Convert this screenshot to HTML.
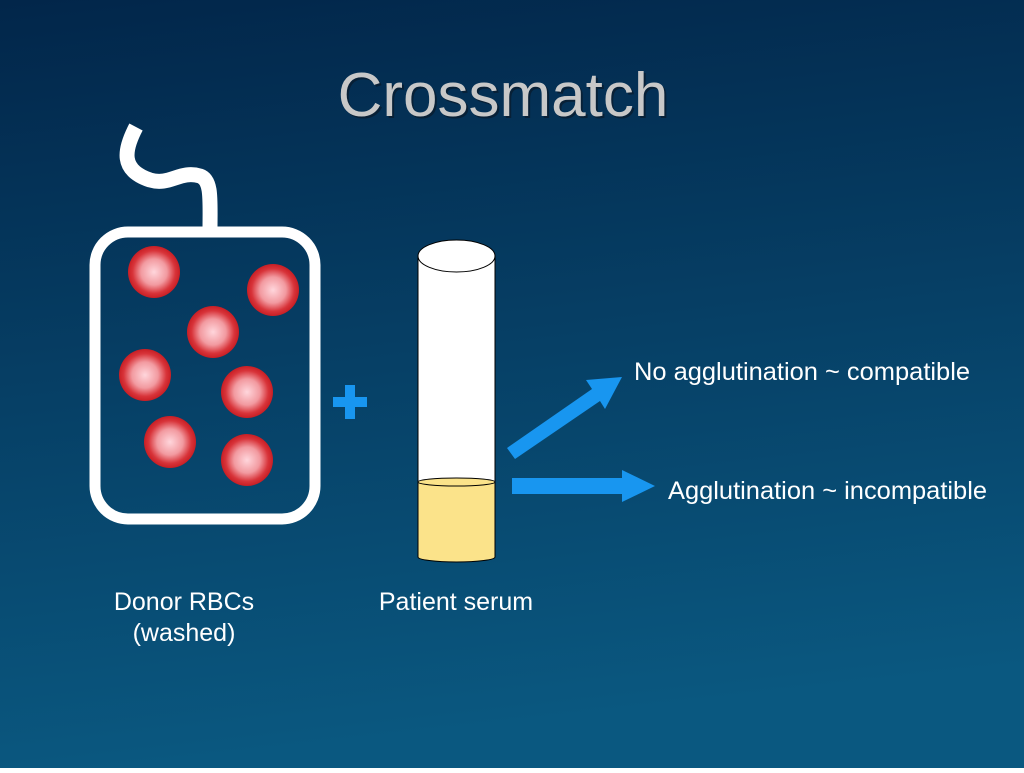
<!DOCTYPE html>
<html><head><style>
html,body{margin:0;padding:0;}
body{width:1024px;height:768px;overflow:hidden;}
</style></head><body>
<svg width="1024" height="768" xmlns="http://www.w3.org/2000/svg">
<defs>
<linearGradient id="bg" x1="0" y1="0" x2="0.15" y2="1">
<stop offset="0" stop-color="#02264a"/>
<stop offset="1" stop-color="#0a5880"/>
</linearGradient>
<radialGradient id="cell" cx="0.5" cy="0.5" r="0.5">
<stop offset="0" stop-color="#ffd6dc"/>
<stop offset="0.5" stop-color="#f29aa0"/>
<stop offset="0.82" stop-color="#d8343a"/>
<stop offset="1" stop-color="#c81e24"/>
</radialGradient>
</defs>
<rect width="1024" height="768" fill="url(#bg)"/>
<text x="505" y="118" font-family="Liberation Sans, sans-serif" font-size="62" fill="#0a1a2a" text-anchor="middle" opacity="0.7">Crossmatch</text>
<text x="503" y="116" font-family="Liberation Sans, sans-serif" font-size="62" fill="#c8c8c8" text-anchor="middle">Crossmatch</text>
<path d="M136,127 C124,150 120,170 150,180 C170,186 180,170 200,176 C212,180 210,200 210,230" fill="none" stroke="#fff" stroke-width="15"/>
<rect x="95" y="232" width="220" height="287" rx="33" fill="none" stroke="#fff" stroke-width="11"/>
<g fill="url(#cell)">
<circle cx="154" cy="272" r="26"/>
<circle cx="273" cy="290" r="26"/>
<circle cx="213" cy="332" r="26"/>
<circle cx="145" cy="375" r="26"/>
<circle cx="247" cy="392" r="26"/>
<circle cx="170" cy="442" r="26"/>
<circle cx="247" cy="460" r="26"/>
</g>
<path d="M345,385h10v12h12v10h-12v12h-10v-12h-12v-10h12z" fill="#1896f0"/>
<path d="M418,482 L418,557 A38.5,5 0 0 0 495,557 L495,482 Z" fill="#fbe38a" stroke="#000" stroke-width="1"/>
<path d="M418,256 L418,482 L495,482 L495,256 Z" fill="#fff"/>
<ellipse cx="456.5" cy="482" rx="38.5" ry="4" fill="#fbe38a" stroke="#000" stroke-width="1"/>
<path d="M418,256 L418,482 M495,256 L495,482" stroke="#000" stroke-width="1" fill="none"/>
<ellipse cx="456.5" cy="256" rx="38.5" ry="16" fill="#fff" stroke="#000" stroke-width="1"/>
<path d="M507,448 L592,389 L586,380 L622,377 L605,409 L600,401 L515,459 Z" fill="#1896f0"/>
<path d="M512,478 L622,478 L622,470 L655,486 L622,502 L622,494 L512,494 Z" fill="#1896f0"/>
<g font-family="Liberation Sans, sans-serif" font-size="25" fill="#fff">
<text x="634" y="380" textLength="336" lengthAdjust="spacingAndGlyphs">No agglutination ~ compatible</text>
<text x="668" y="499" textLength="319" lengthAdjust="spacingAndGlyphs">Agglutination ~ incompatible</text>
<text x="184" y="610" text-anchor="middle">Donor RBCs</text>
<text x="184" y="641" text-anchor="middle">(washed)</text>
<text x="456" y="610" text-anchor="middle">Patient serum</text>
</g>
</svg>
</body></html>
